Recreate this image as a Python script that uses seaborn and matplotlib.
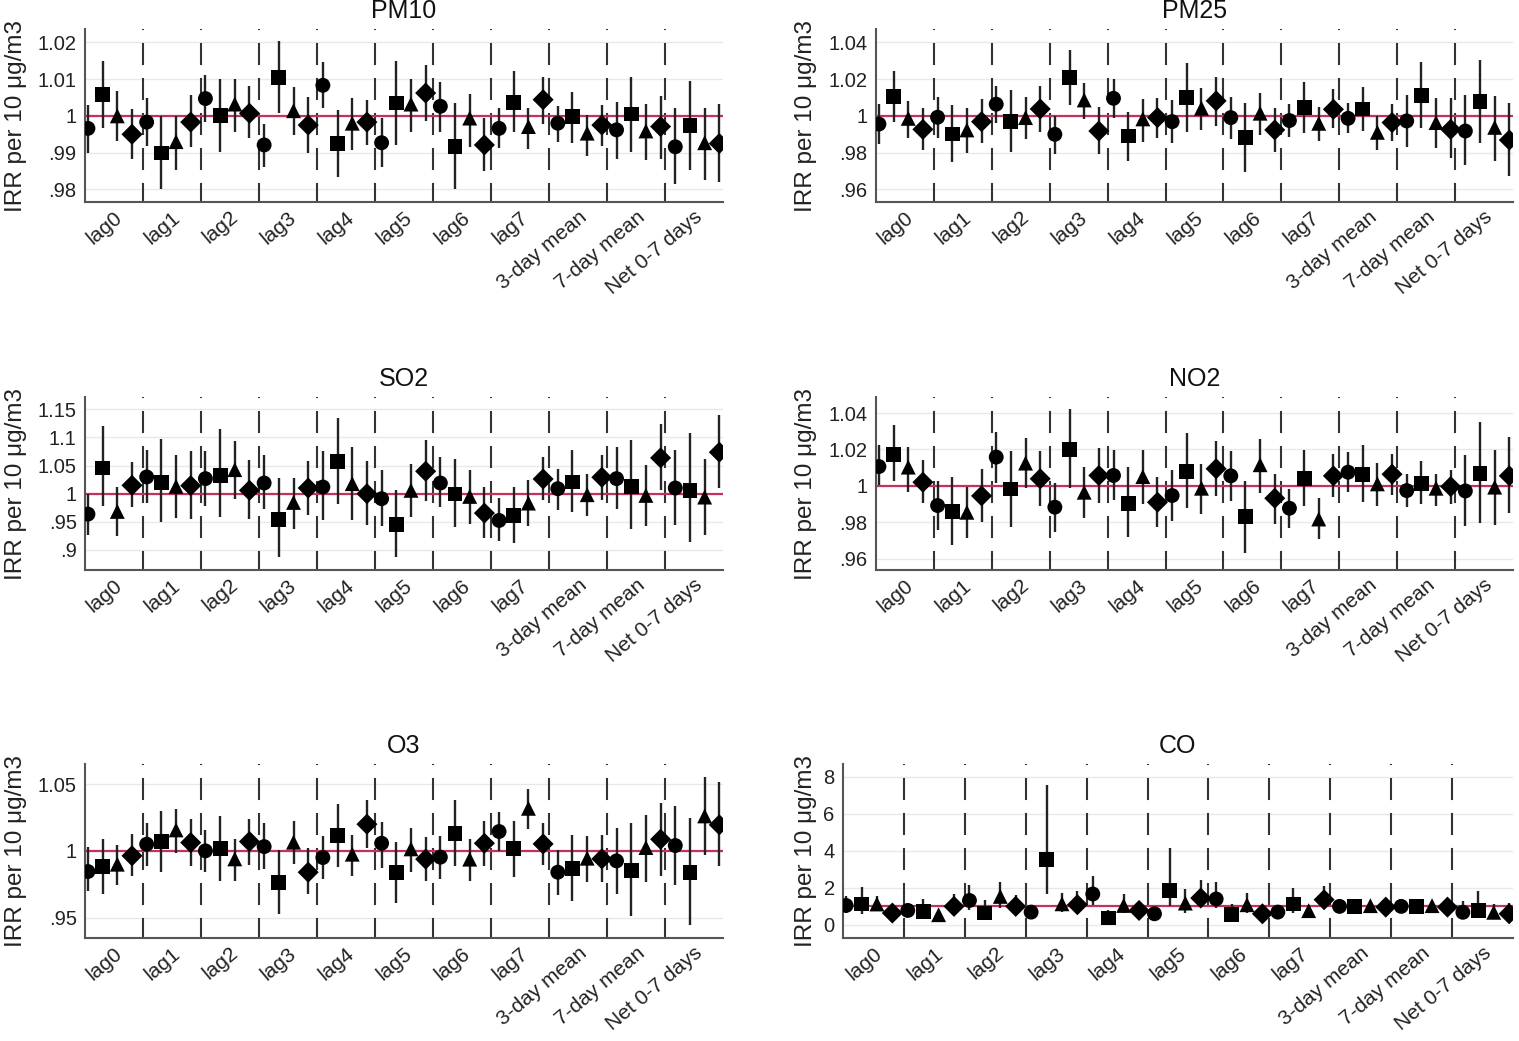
import numpy as np
import pandas as pd
import seaborn as sns
import matplotlib.pyplot as plt
from matplotlib import transforms
from matplotlib.ticker import FuncFormatter, MultipleLocator

# x categories (one group of four estimates each)
GROUPS = ['lag0', 'lag1', 'lag2', 'lag3', 'lag4', 'lag5', 'lag6', 'lag7',
          '3-day mean', '7-day mean', 'Net 0-7 days']
SERIES = ['s1', 's2', 's3', 's4']
MARKERS = {'s1': 'o', 's2': 's', 's3': '^', 's4': 'D'}

PM10_EST = [0.9966, 1.0059, 1.0000, 0.9950, 0.9983, 0.9899, 0.9930, 0.9983,
            1.0047, 1.0000, 1.0032, 1.0007, 0.9921, 1.0105, 1.0014, 0.9975,
            1.0083, 0.9925, 0.9980, 0.9983, 0.9927, 1.0035, 1.0032, 1.0062,
            1.0026, 0.9916, 0.9994, 0.9921, 0.9966, 1.0037, 0.9971, 1.0044,
            0.9980, 0.9998, 0.9953, 0.9975, 0.9962, 1.0005, 0.9959, 0.9971,
            0.9916, 0.9973, 0.9927, 0.9925]
PM10_LO = [0.9898, 0.9968, 0.9932, 0.9884, 0.9918, 0.9800, 0.9852, 0.9916,
           0.9983, 0.9902, 0.9957, 0.9939, 0.9860, 1.0007, 0.9948, 0.9900,
           1.0021, 0.9835, 0.9907, 0.9921, 0.9860, 0.9921, 0.9955, 0.9987,
           0.9957, 0.9800, 0.9916, 0.9850, 0.9913, 0.9955, 0.9910, 0.9978,
           0.9930, 0.9927, 0.9892, 0.9919, 0.9882, 0.9902, 0.9879, 0.9884,
           0.9814, 0.9852, 0.9827, 0.9820]
PM10_HI = [1.0030, 1.0149, 1.0067, 1.0018, 1.0048, 1.0000, 1.0000, 1.0058,
           1.0110, 1.0100, 1.0100, 1.0082, 0.9978, 1.0204, 1.0079, 1.0050,
           1.0147, 1.0016, 1.0048, 1.0044, 0.9994, 1.0150, 1.0101, 1.0137,
           1.0091, 1.0035, 1.0060, 0.9994, 1.0021, 1.0121, 1.0021, 1.0105,
           1.0027, 1.0065, 1.0003, 1.0030, 1.0039, 1.0105, 1.0032, 1.0055,
           1.0021, 1.0096, 1.0021, 1.0032]

PM25_EST = [0.9956, 1.0105, 0.9987, 0.9927, 0.9993, 0.9902, 0.9924, 0.9969,
            1.0064, 0.9969, 0.9991, 1.0038, 0.9900, 1.0211, 1.0087, 0.9918,
            1.0096, 0.9891, 0.9984, 0.9991, 0.9969, 1.0100, 1.0042, 1.0082,
            0.9991, 0.9884, 1.0015, 0.9924, 0.9975, 1.0045, 0.9960, 1.0036,
            0.9987, 1.0038, 0.9911, 0.9964, 0.9973, 1.0109, 0.9964, 0.9927,
            0.9918, 1.0078, 0.9938, 0.9869]
PM25_LO = [0.9847, 0.9965, 0.9882, 0.9815, 0.9882, 0.9747, 0.9796, 0.9855,
           0.9960, 0.9805, 0.9875, 0.9915, 0.9793, 1.0060, 0.9984, 0.9793,
           0.9987, 0.9756, 0.9860, 0.9882, 0.9855, 0.9915, 0.9924, 0.9945,
           0.9873, 0.9696, 0.9896, 0.9805, 0.9887, 0.9905, 0.9864, 0.9933,
           0.9905, 0.9920, 0.9815, 0.9865, 0.9833, 0.9933, 0.9824, 0.9769,
           0.9733, 0.9855, 0.9755, 0.9675]
PM25_HI = [1.0064, 1.0242, 1.0084, 1.0042, 1.0102, 1.0058, 1.0042, 1.0093,
           1.0164, 1.0142, 1.0102, 1.0164, 1.0000, 1.0360, 1.0178, 1.0047,
           1.0202, 1.0024, 1.0093, 1.0100, 1.0087, 1.0287, 1.0151, 1.0211,
           1.0105, 1.0073, 1.0127, 1.0042, 1.0065, 1.0187, 1.0047, 1.0145,
           1.0069, 1.0155, 1.0002, 1.0064, 1.0115, 1.0291, 1.0096, 1.0096,
           1.0115, 1.0305, 1.0111, 1.0069]

SO2_EST = [0.9637, 1.0458, 0.9685, 1.0149, 1.0298, 1.0202, 1.0131, 1.0143,
           1.0268, 1.0321, 1.0428, 1.0060, 1.0190, 0.9536, 0.9845, 1.0101,
           1.0119, 1.0565, 1.0179, 1.0000, 0.9911, 0.9459, 1.0060, 1.0399,
           1.0190, 0.9994, 0.9952, 0.9655, 0.9524, 0.9613, 0.9833, 1.0262,
           1.0089, 1.0208, 0.9982, 1.0292, 1.0268, 1.0131, 0.9970, 1.0637,
           1.0101, 1.0060, 0.9940, 1.0738]
SO2_LO = [0.9268, 0.9774, 0.9256, 0.9756, 0.9833, 0.9488, 0.9566, 0.9548,
          0.9774, 0.9578, 0.9911, 0.9548, 0.9726, 0.8870, 0.9369, 0.9625,
          0.9536, 0.9822, 0.9536, 0.9447, 0.9429, 0.8881, 0.9578, 0.9863,
          0.9762, 0.9399, 0.9464, 0.9209, 0.9161, 0.9119, 0.9417, 0.9881,
          0.9714, 0.9673, 0.9595, 0.9893, 0.9726, 0.9369, 0.9417, 1.0071,
          0.9447, 0.9137, 0.9268, 1.0101]
SO2_HI = [1.0000, 1.1202, 1.0119, 1.0559, 1.0785, 1.0976, 1.0696, 1.0768,
          1.0768, 1.1143, 1.0934, 1.0607, 1.0684, 1.0280, 1.0280, 1.0589,
          1.0756, 1.1350, 1.0827, 1.0577, 1.0428, 1.0060, 1.0530, 1.0964,
          1.0655, 1.0625, 1.0428, 1.0113, 0.9923, 1.0119, 1.0238, 1.0655,
          1.0446, 1.0774, 1.0351, 1.0696, 1.0827, 1.0952, 1.0518, 1.1244,
          1.0785, 1.1083, 1.0619, 1.1398]

NO2_EST = [1.0106, 1.0174, 1.0103, 1.0020, 0.9892, 0.9859, 0.9855, 0.9945,
           1.0158, 0.9983, 1.0125, 1.0039, 0.9883, 1.0202, 0.9965, 1.0057,
           1.0057, 0.9905, 1.0051, 0.9910, 0.9947, 1.0079, 0.9987, 1.0094,
           1.0055, 0.9831, 1.0116, 0.9932, 0.9877, 1.0042, 0.9818, 1.0055,
           1.0075, 1.0064, 1.0011, 1.0064, 0.9974, 1.0015, 0.9987, 0.9996,
           0.9972, 1.0070, 0.9993, 1.0055]
NO2_LO = [1.0006, 1.0024, 0.9969, 0.9905, 0.9758, 0.9675, 0.9712, 0.9804,
          1.0018, 0.9772, 0.9987, 0.9890, 0.9749, 0.9987, 0.9826, 0.9905,
          0.9923, 0.9717, 0.9901, 0.9776, 0.9809, 0.9881, 0.9846, 0.9945,
          0.9919, 0.9633, 0.9963, 0.9791, 0.9767, 0.9890, 0.9706, 0.9938,
          0.9969, 0.9910, 0.9890, 0.9950, 0.9886, 0.9899, 0.9890, 0.9899,
          0.9780, 0.9798, 0.9785, 0.9850]
NO2_HI = [1.0226, 1.0336, 1.0213, 1.0143, 1.0024, 1.0048, 0.9996, 1.0092,
          1.0295, 1.0193, 1.0262, 1.0189, 1.0018, 1.0422, 1.0106, 1.0207,
          1.0198, 1.0101, 1.0195, 1.0051, 1.0088, 1.0290, 1.0119, 1.0244,
          1.0189, 1.0028, 1.0257, 1.0066, 0.9983, 1.0198, 0.9932, 1.0176,
          1.0185, 1.0222, 1.0125, 1.0176, 1.0064, 1.0138, 1.0066, 1.0088,
          1.0171, 1.0349, 1.0195, 1.0266]

O3_EST = [0.9845, 0.9883, 0.9900, 0.9963, 1.0050, 1.0070, 1.0157, 1.0062,
          1.0000, 1.0015, 0.9940, 1.0070, 1.0032, 0.9766, 1.0065, 0.9840,
          0.9950, 1.0112, 0.9975, 1.0200, 1.0057, 0.9840, 1.0015, 0.9938,
          0.9953, 1.0127, 0.9938, 1.0057, 1.0145, 1.0015, 1.0319, 1.0052,
          0.9840, 0.9870, 0.9945, 0.9940, 0.9925, 0.9850, 1.0025, 1.0087,
          1.0040, 0.9840, 1.0262, 1.0195]
O3_LO = [0.9696, 0.9678, 0.9741, 0.9808, 0.9883, 0.9840, 0.9983, 0.9888,
         0.9838, 0.9776, 0.9776, 0.9895, 0.9865, 0.9529, 0.9903, 0.9678,
         0.9788, 0.9878, 0.9813, 1.0020, 0.9875, 0.9613, 0.9840, 0.9771,
         0.9790, 0.9883, 0.9771, 0.9883, 1.0000, 0.9803, 1.0162, 0.9895,
         0.9671, 0.9621, 0.9763, 0.9763, 0.9678, 0.9514, 0.9763, 0.9813,
         0.9746, 0.9446, 0.9970, 0.9888]
O3_HI = [1.0032, 1.0090, 1.0045, 1.0125, 1.0212, 1.0302, 1.0312, 1.0239,
         1.0157, 1.0262, 1.0090, 1.0239, 1.0207, 1.0007, 1.0224, 1.0020,
         1.0115, 1.0349, 1.0120, 1.0382, 1.0219, 1.0070, 1.0170, 1.0102,
         1.0115, 1.0382, 1.0090, 1.0227, 1.0294, 1.0227, 1.0461, 1.0212,
         1.0007, 1.0120, 1.0112, 1.0120, 1.0175, 1.0207, 1.0269, 1.0362,
         1.0339, 1.0249, 1.0551, 1.0519]

CO_EST = [1.04, 1.12, 1.12, 0.63, 0.77, 0.72, 0.54, 0.99,
          1.31, 0.63, 1.53, 0.99, 0.68, 3.51, 1.13, 1.08,
          1.66, 0.36, 1.04, 0.77, 0.59, 1.84, 1.17, 1.44,
          1.39, 0.54, 1.08, 0.59, 0.68, 1.12, 0.76, 1.35,
          0.99, 0.99, 1.03, 0.95, 0.99, 0.99, 1.03, 0.95,
          0.67, 0.77, 0.67, 0.59]
CO_LO = [0.63, 0.59, 0.72, 0.45, 0.49, 0.45, 0.41, 0.54,
         0.77, 0.36, 0.90, 0.63, 0.50, 1.66, 0.67, 0.63,
         1.04, 0.18, 0.63, 0.50, 0.41, 0.99, 0.63, 0.99,
         0.90, 0.27, 0.63, 0.41, 0.50, 0.63, 0.54, 0.90,
         0.85, 0.82, 0.88, 0.78, 0.85, 0.85, 0.88, 0.78,
         0.36, 0.36, 0.41, 0.27]
CO_HI = [1.57, 2.02, 1.57, 0.81, 1.17, 1.39, 0.72, 1.66,
         2.12, 1.35, 2.29, 1.62, 0.90, 7.56, 1.71, 1.84,
         2.61, 0.81, 1.66, 1.17, 0.81, 4.14, 1.93, 2.43,
         2.29, 1.12, 1.71, 0.81, 0.90, 1.98, 0.99, 2.07,
         1.13, 1.15, 1.17, 1.17, 1.13, 1.17, 1.17, 1.17,
         1.26, 1.80, 1.13, 1.17]

# panel: title, data, y limits, y tick step, axes box in pixels (left, top, right, bottom)
PANELS = [
    ('PM10', PM10_EST, PM10_LO, PM10_HI, (0.9766, 1.0236), 0.01, (85, 29, 723, 202)),
    ('PM25', PM25_EST, PM25_LO, PM25_HI, (0.9532, 1.0473), 0.02, (876, 29, 1513, 202)),
    ('SO2', SO2_EST, SO2_LO, SO2_HI, (0.8643, 1.172), 0.05, (85, 397, 723, 570)),
    ('NO2', NO2_EST, NO2_LO, NO2_HI, (0.9538, 1.0488), 0.02, (876, 397, 1513, 570)),
    ('O3', O3_EST, O3_LO, O3_HI, (0.9347, 1.0651), 0.05, (85, 764, 723, 938)),
    ('CO', CO_EST, CO_LO, CO_HI, (-0.72, 8.69), 2, (843, 764, 1513, 938)),
]

W, H = 1519, 1041
XLIM = (-0.2, 43.25)

sns.set_style('white')
plt.rcParams['font.family'] = ['Liberation Sans', 'DejaVu Sans']


def stata_fmt(v, pos):
    s = f'{round(v, 4):g}'
    if s.startswith('0.'):
        s = s[1:]
    elif s.startswith('-0.'):
        s = '-' + s[2:]
    return s


fig = plt.figure(figsize=(W / 100, H / 100), dpi=100)

bounds = np.linspace(XLIM[0], XLIM[1], len(GROUPS) + 1)
centers = (bounds[:-1] + bounds[1:]) / 2

for title, est, lo, hi, ylim, step, (l, t, r, b) in PANELS:
    ax = fig.add_axes([l / W, 1 - b / H, (r - l) / W, (b - t) / H])
    df = pd.DataFrame({
        'x': np.arange(len(est)),
        'est': est, 'lo': lo, 'hi': hi,
        'series': [SERIES[i % 4] for i in range(len(est))],
    })

    ax.set_xlim(*XLIM)
    ax.set_ylim(*ylim)
    ax.yaxis.set_major_locator(MultipleLocator(step))
    ax.yaxis.set_major_formatter(FuncFormatter(stata_fmt))
    ax.grid(axis='y', color='#e9e9e9', lw=1.0, zorder=0)
    ax.grid(axis='x', visible=False)

    # dashed separators drawn top to bottom so the pattern starts with a dot at the top
    xt = transforms.blended_transform_factory(ax.transData, ax.transAxes)
    for xb in bounds[1:-1]:
        ax.plot([xb, xb], [1, 0], transform=xt, color='#333333', lw=1.5,
                ls=(10.1, (10.6, 6.2)), zorder=1)
    ax.axhline(1, color='#c3325a', lw=1.6, zorder=2)

    ax.vlines(df['x'], df['lo'], df['hi'], color='#222222', lw=1.7, zorder=3)
    sns.scatterplot(data=df, x='x', y='est', style='series', markers=MARKERS,
                    color='black', edgecolor='black', linewidth=0, s=115,
                    legend=False, ax=ax, zorder=4)

    ax.set_xticks(centers)
    ax.set_xticklabels(GROUPS, rotation=40, ha='right', rotation_mode='anchor',
                       fontsize=15)
    ax.tick_params(axis='both', length=0, colors='#222222')
    ax.tick_params(axis='x', pad=4)
    ax.tick_params(axis='y', labelsize=14.5, pad=6)
    ax.set_xlabel('')
    ax.set_ylabel('IRR per 10 μg/m3', fontsize=17.5, color='#222222')
    lab_x = 27 if l < 500 else 817
    ax.yaxis.set_label_coords(lab_x / W, 0.5,
                              transform=transforms.blended_transform_factory(fig.transFigure, ax.transAxes))
    ax.set_title(title, fontsize=18, pad=8, color='#111111')

    sns.despine(ax=ax)
    for side in ['left', 'bottom']:
        ax.spines[side].set_color('#555555')
        ax.spines[side].set_linewidth(1.5)

fig.savefig('out.png', dpi=100)
